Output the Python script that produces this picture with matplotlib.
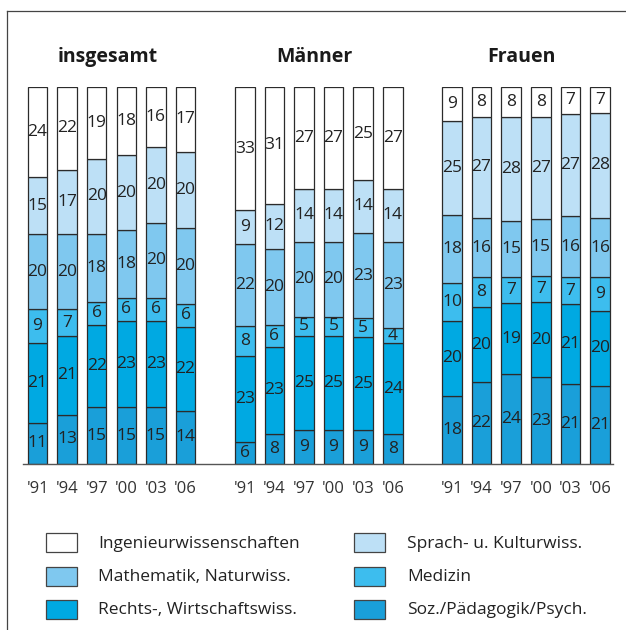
import matplotlib

matplotlib.use("Agg")
import matplotlib.pyplot as plt
import numpy as np
from matplotlib.lines import Line2D
from matplotlib.patches import Rectangle

plt.rcParams["font.family"] = ["Open Sans", "DejaVu Sans"]

YEARS = ["'91", "'94", "'97", "'00", "'03", "'06"]
GROUPS = ["insgesamt", "Männer", "Frauen"]

# stacking order, bottom to top
CATEGORIES = [
    "Soz./Pädagogik/Psych.",
    "Rechts-, Wirtschaftswiss.",
    "Medizin",
    "Mathematik, Naturwiss.",
    "Sprach- u. Kulturwiss.",
    "Ingenieurwissenschaften",
]
COLORS = ["#1a9fd9", "#00a9e2", "#3dbdee", "#7fc8ef", "#bde0f6", "#ffffff"]

# one row per category (same order as CATEGORIES), one column per year
insgesamt = [
    [11, 13, 15, 15, 15, 14],
    [21, 21, 22, 23, 23, 22],
    [9, 7, 6, 6, 6, 6],
    [20, 20, 18, 18, 20, 20],
    [15, 17, 20, 20, 20, 20],
    [24, 22, 19, 18, 16, 17],
]
maenner = [
    [6, 8, 9, 9, 9, 8],
    [23, 23, 25, 25, 25, 24],
    [8, 6, 5, 5, 5, 4],
    [22, 20, 20, 20, 23, 23],
    [9, 12, 14, 14, 14, 14],
    [33, 31, 27, 27, 25, 27],
]
frauen = [
    [18, 22, 24, 23, 21, 21],
    [20, 20, 19, 20, 21, 20],
    [10, 8, 7, 7, 7, 9],
    [18, 16, 15, 15, 16, 16],
    [25, 27, 28, 27, 27, 28],
    [9, 8, 8, 8, 7, 7],
]

# legend layout: (column, row) for each category
LEGEND_SLOTS = [(1, 2), (0, 2), (1, 1), (0, 1), (1, 0), (0, 0)]

W, H = 626, 630
fig = plt.figure(figsize=(W / 100, H / 100), dpi=100)

ax = fig.add_axes([23 / W, (H - 464) / H, (613 - 23) / W, (464 - 87) / H])
ax.set_xlim(-0.49, 19.44)
ax.set_ylim(0, 100)

edge = "#2b2b2b"
tick_pos = []
tick_lab = []
for g, (name, data) in enumerate(zip(GROUPS, [insgesamt, maenner, frauen])):
    values = np.array(data, dtype=float)
    shares = values / values.sum(axis=0) * 100
    x = np.arange(len(YEARS)) + 7 * g
    bottom = np.zeros(len(YEARS))
    for k, color in enumerate(COLORS):
        ax.bar(x, shares[k], 0.66, bottom=bottom, color=color,
               edgecolor=edge, linewidth=0.9)
        for xi, b, h, v in zip(x, bottom, shares[k], values[k]):
            ax.text(xi, b + h / 2, f"{int(v)}", ha="center", va="center",
                    fontsize=12.5, color="#222222")
        bottom += shares[k]
    ax.text(x.mean() - 0.14, 108, name, ha="center", va="center",
            fontsize=14, fontweight="bold", color="#1a1a1a", clip_on=False)
    tick_pos.extend(x)
    tick_lab.extend(YEARS)

ax.set_xticks(tick_pos)
ax.set_xticklabels(tick_lab, fontsize=12, color="#333333")
ax.tick_params(axis="x", length=0, pad=12)
ax.set_yticks([])
for side in ["left", "right", "top"]:
    ax.spines[side].set_visible(False)
ax.spines["bottom"].set_color("#555555")
ax.spines["bottom"].set_linewidth(1.0)

# outer frame: left and top rules
fig.add_artist(Line2D([7 / W, 7 / W], [0, (H - 11) / H], color="#444444", lw=0.9))
fig.add_artist(Line2D([7 / W, 1], [(H - 11) / H, (H - 11) / H], color="#444444", lw=0.9))

# legend
col_box_x = [46, 354]
col_text_x = [98, 407]
row_y = [542.5, 576, 609.5]
for cat, color, (c, r) in zip(CATEGORIES, COLORS, LEGEND_SLOTS):
    cy = row_y[r]
    fig.add_artist(Rectangle((col_box_x[c] / W, (H - cy - 9.5) / H), 31 / W, 19 / H,
                             facecolor=color, edgecolor="#444444", lw=0.9))
    fig.text(col_text_x[c] / W, (H - cy - 1) / H, cat, ha="left", va="center",
             fontsize=12.5, color="#222222")

fig.savefig("out.png", dpi=100)
